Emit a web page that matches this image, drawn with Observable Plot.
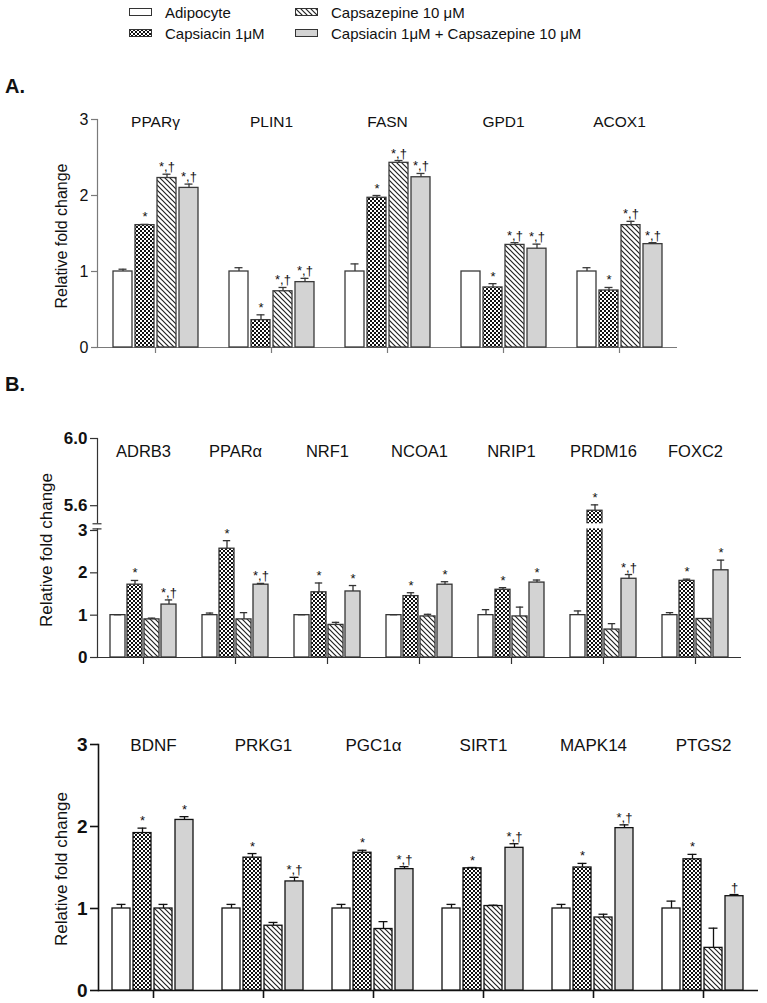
<!DOCTYPE html>
<html><head><meta charset="utf-8">
<script src="https://cdn.jsdelivr.net/npm/d3@7"></script>
<script src="https://cdn.jsdelivr.net/npm/@observablehq/plot@0.6"></script>
<style>
body{margin:0;background:#fff;font-family:"Liberation Sans",Arial,sans-serif;color:#111;}
#root{position:relative;width:767px;height:1003px;overflow:hidden;background:#fff;}
.abs{position:absolute;}
.leg{position:absolute;display:flex;align-items:center;font-size:15px;white-space:nowrap;height:16px;}
.leg svg{margin-right:13px;}
.ptitle{position:absolute;font-weight:bold;font-size:20px;line-height:20px;}
.ytitle{position:absolute;white-space:nowrap;transform:translate(-50%,-50%) rotate(-90deg);}
</style></head><body>
<svg width="0" height="0" style="position:absolute"><defs>
<pattern id="checker" width="4" height="4" patternUnits="userSpaceOnUse"><rect width="4" height="4" fill="#fff"/><rect width="2" height="2" fill="#111"/><rect x="2" y="2" width="2" height="2" fill="#111"/></pattern>
<pattern id="stripe" width="5" height="5" patternUnits="userSpaceOnUse"><rect width="5" height="5" fill="#fff"/><path d="M-1,-1L6,6M-1,4L1,6M4,-1L6,1" stroke="#222" stroke-width="1.2"/></pattern>
</defs></svg>
<div id="root"></div>
<script>
// ---- data ----
const treatments = ["Adipocyte", "Capsiacin 1μM", "Capsazepine 10 μM", "Capsiacin 1μM  + Capsazepine 10 μM"];
const fills = ["#ffffff", "url(#checker)", "url(#stripe)", "#d3d3d3"];

const genesA = ["PPARγ", "PLIN1", "FASN", "GPD1", "ACOX1"];
const meanA = [[1.00,1.61,2.23,2.10],[1.00,0.36,0.74,0.86],[1.00,1.97,2.43,2.24],[1.00,0.79,1.35,1.30],[1.00,0.75,1.61,1.36]];
const errA  = [[0.03,0.01,0.05,0.05],[0.05,0.07,0.05,0.05],[0.10,0.03,0.03,0.05],[0.00,0.05,0.03,0.06],[0.05,0.04,0.05,0.02]];
const sigA  = [["","*","*,†","*,†"],["","*","*,†","*,†"],["","*","*,†","*,†"],["","*","*,†","*,†"],["","*","*,†","*,†"]];
const ticksA = [0, 1, 2, 3];

const genesB1 = ["ADRB3", "PPARα", "NRF1", "NCOA1", "NRIP1", "PRDM16", "FOXC2"];
const meanB1 = [[1.00,1.72,0.90,1.25],[1.00,2.57,0.90,1.72],[1.00,1.54,0.77,1.56],[1.00,1.45,0.97,1.72],[1.00,1.60,0.97,1.77],[1.00,5.57,0.66,1.86],[1.00,1.81,0.91,2.06]];
const errB1  = [[0.01,0.10,0.03,0.11],[0.05,0.19,0.16,0.03],[0.01,0.22,0.06,0.14],[0.01,0.08,0.05,0.07],[0.13,0.05,0.22,0.06],[0.10,0.035,0.14,0.10],[0.06,0.04,0.00,0.24]];
const sigB1  = [["","*","","*,†"],["","*","","*,†"],["","*","","*"],["","*","","*"],["","*","","*"],["","*","","*,†"],["","*","","*"]];
const ticksB1 = [0, 1, 2, 3, 5.6, 6.0];
const breakB1 = [3.5, 5.1];

const genesB2 = ["BDNF", "PRKG1", "PGC1α", "SIRT1", "MAPK14", "PTGS2"];
const meanB2 = [[1.00,1.92,1.00,2.08],[1.00,1.62,0.79,1.33],[1.00,1.68,0.75,1.48],[1.00,1.49,1.03,1.74],[1.00,1.50,0.89,1.98],[1.00,1.60,0.52,1.15]];
const errB2  = [[0.05,0.06,0.05,0.04],[0.05,0.05,0.04,0.05],[0.05,0.03,0.09,0.03],[0.05,0.01,0.01,0.05],[0.05,0.05,0.04,0.04],[0.09,0.06,0.24,0.02]];
const sigB2  = [["","*","","*"],["","*","","*,†"],["","*","","*,†"],["","*","","*,†"],["","*","","*,†"],["","*","","†"]];
const ticksB2 = [0, 1, 2, 3];

const root = document.getElementById("root");
function el(tag, cls, style, text){const e=document.createElement(tag); if(cls) e.className=cls; Object.assign(e.style, style||{}); if(text!=null) e.textContent=text; root.appendChild(e); return e;}

// ---- legend ----
function legendItem(i, left, top){
  const d = el("div","leg",{left:left+"px", top:top+"px"});
  d.innerHTML = `<svg width="23" height="8"><rect x="0.5" y="0.5" width="22" height="7" fill="${fills[i]}" stroke="#333" stroke-width="1"/></svg>`;
  const s = document.createElement("span"); s.textContent = treatments[i]; d.appendChild(s);
}
legendItem(0, 129, 4);
legendItem(2, 295, 4);
legendItem(1, 129, 25);
legendItem(3, 295, 25);

el("div","ptitle",{left:"5px", top:"76px"}, "A.");
el("div","ptitle",{left:"5px", top:"374px"}, "B.");

function rowsOf(genes, means, errs, sigs){
  return genes.flatMap((g,i)=>treatments.map((t,j)=>({gene:g, treat:t, v:means[i][j], e:errs[i][j], s:sigs[i][j]})));
}

function panel(o){
  const rows = rowsOf(o.genes, o.means, o.errs, o.sigs);
  const withErr = rows.filter(d=>d.e>0);
  const marks = [
    Plot.frame({anchor:"left", facetAnchor:"left", stroke:o.axisColor, strokeWidth:o.axisWidth}),
    Plot.ruleY([0], {stroke:o.axisColor, strokeWidth:o.axisWidth}),
    Plot.barY(rows, {fx:"gene", x:"treat", y:"v", fill:"treat", stroke:o.barStroke, strokeWidth:1.3}),
    Plot.ruleX(withErr, {fx:"gene", x:"treat", y1:"v", y2:d=>d.v+d.e, stroke:o.barStroke, strokeWidth:1.3}),
    Plot.tickY(withErr, {fx:"gene", x:"treat", y:d=>d.v+d.e, insetLeft:o.capInset, insetRight:o.capInset, stroke:o.barStroke, strokeWidth:1.3}),
  ];
  if (o.breaks) {
    marks.push(Plot.rect([o.breaks], {y1:d=>d[0], y2:d=>d[1], fill:"white", insetLeft:-5}));
  }
  marks.push(
    Plot.text(rows.filter(d=>d.s), {fx:"gene", x:"treat", y:d=>d.v+d.e, text:"s", dy:-3, lineAnchor:"bottom", fontSize:13, fill:"#111"}),
    Plot.text(o.genes, {fx:d=>d, text:d=>d, frameAnchor:"top", lineAnchor:"middle", dy:o.geneDy, fontSize:o.geneSize, fill:"#111"}),
    Plot.axisY({ticks:o.ticks, tickSize:o.tickSize, tickPadding:3, tickFormat:o.tickFormat, label:null, stroke:o.axisColor, strokeWidth:o.axisWidth, fontSize:o.tickFont, fontWeight:o.tickWeight, fill:"#111"}),
    Plot.axisFx({anchor:"bottom", tickSize:o.tickSize, tickFormat:()=>"", label:null, stroke:o.axisColor, strokeWidth:o.axisWidth})
  );
  if (o.breaks) {
    marks.push(Plot.axisY({ticks:o.breaks, tickSize:9, dx:4.5, tickFormat:()=>"", label:null, stroke:o.axisColor, strokeWidth:o.axisWidth}));
  }
  const chart = Plot.plot({
    width:767, height:o.height,
    marginTop:o.mt, marginBottom:o.mb, marginLeft:o.ml, marginRight:o.mr,
    style:{fontFamily:'"Liberation Sans", Arial, sans-serif', fontSize:"14px", background:"transparent", overflow:"visible", color:"#111"},
    fx:{domain:o.genes, padding:0, axis:null, label:null},
    x:{domain:treatments, paddingInner:o.pi, paddingOuter:o.po, axis:null},
    y:o.y,
    color:{domain:treatments, range:fills},
    marks
  });
  const wrap = el("div","abs",{left:"0px", top:o.top+"px"});
  wrap.appendChild(chart);
}

panel({genes:genesA, means:meanA, errs:errA, sigs:sigA, top:60, height:320, mt:59, mb:33, ml:95, mr:89,
  y:{domain:[0,3], label:null}, ticks:ticksA, tickFormat:d=>d, tickSize:6, tickFont:16, tickWeight:"normal",
  axisColor:"#7a7a7a", axisWidth:1.2, barStroke:"#3a3a3a", capInset:5.5, pi:0.15, po:0.69, geneDy:3, geneSize:15.5});

panel({genes:genesB1, means:meanB1, errs:errB1, sigs:sigB1, top:400, height:290, mt:38, mb:33, ml:96, mr:25,
  y:{type:"linear", domain:[0,3,5.5,6], range:[257,130,122,38], label:null}, ticks:ticksB1,
  tickFormat:d=>d>4?d.toFixed(1):String(d), tickSize:7, tickFont:17, tickWeight:"bold", breaks:breakB1,
  axisColor:"#333", axisWidth:1.2, barStroke:"#333", capInset:3.8, pi:0.14, po:0.635, geneDy:13, geneSize:16.5});

panel({genes:genesB2, means:meanB2, errs:errB2, sigs:sigB2, top:700, height:303, mt:44, mb:13, ml:97, mr:9,
  y:{domain:[0,3], label:null}, ticks:ticksB2, tickFormat:d=>d, tickSize:8, tickFont:19, tickWeight:"bold",
  axisColor:"#111", axisWidth:1.6, barStroke:"#111", capInset:4.5, pi:0.13, po:0.665, geneDy:1, geneSize:17});

el("div","ytitle",{left:"62px", top:"236px", fontSize:"16px"}, "Relative fold change");
el("div","ytitle",{left:"47px", top:"550px", fontSize:"17px"}, "Relative fold change");
el("div","ytitle",{left:"62px", top:"869px", fontSize:"17px"}, "Relative fold change");
</script>
</body></html>
